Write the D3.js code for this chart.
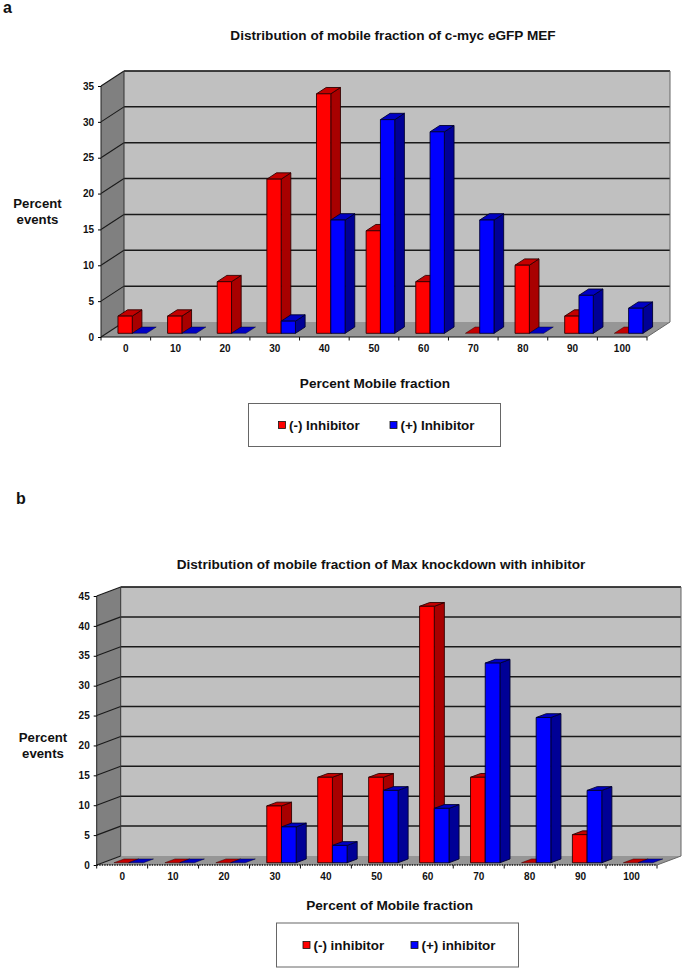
<!DOCTYPE html>
<html><head><meta charset="utf-8">
<script src="https://cdn.jsdelivr.net/npm/d3@7"></script>
<style>html,body{margin:0;padding:0;background:#fff}svg{display:block}text{font-family:"Liberation Sans",Arial,sans-serif;font-weight:bold;fill:#111}</style>
</head><body><svg id="c" width="685" height="971"></svg>
<script>
const categories = ["0","10","20","30","40","50","60","70","80","90","100"];
const seriesA1 = [2.4,2.4,7.2,21.5,33.4,14.3,7.2,0,9.5,2.4,0];
const seriesA2 = [0,0,0,1.7,15.8,29.8,28.1,15.8,0,5.3,3.5];
const seriesB1 = [0,0,0,9.5,14.3,14.3,42.9,14.3,0,4.7,0];
const seriesB2 = [0,0,0,6,2.9,12.1,9.1,33.4,24.3,12.1,0];
const ticksA = [0,5,10,15,20,25,30,35];
const ticksB = [0,5,10,15,20,25,30,35,40,45];

const svg = d3.select("#c");
const RED = {front:"#ff0000", side:"#a80000", top:"#c40000"};
const BLUE = {front:"#0000ff", side:"#000096", top:"#0000c4"};

function panel(o){
  const g = svg.append("g");
  const x = d3.scaleBand().domain(categories).range([o.x0,o.x1]).paddingInner(0).paddingOuter(0);
  const y = d3.scaleLinear().domain([0,o.max]).range([o.y0,o.yTop]);
  const dx=o.dx, dy=o.dy;
  const poly=(pts,fill,stroke,sw)=>g.append("polygon").attr("points",pts.map(p=>p.join(",")).join(" "))
     .attr("fill",fill).attr("stroke",stroke||"none").attr("stroke-width",sw||0).attr("stroke-linejoin","round");
  // walls
  poly([[o.x0+dx,o.yTop+dy],[o.x1+dx,o.yTop+dy],[o.x1+dx,o.y0+dy],[o.x0+dx,o.y0+dy]],"#c0c0c0");
  poly([[o.x0,o.yTop],[o.x0+dx,o.yTop+dy],[o.x0+dx,o.y0+dy],[o.x0,o.y0]],"#808080");
  poly([[o.x0,o.y0],[o.x0+dx,o.y0+dy],[o.x1+dx,o.y0+dy],[o.x1,o.y0]],"#969696");
  // gridlines
  o.ticks.forEach(t=>{
    const yy=y(t);
    if(t>0) g.append("line").attr("x1",o.x0+dx).attr("x2",o.x1+dx).attr("y1",yy+dy).attr("y2",yy+dy).attr("stroke","#1a1a1a").attr("stroke-width",1.5);
    g.append("line").attr("x1",o.x0).attr("x2",o.x0+dx).attr("y1",yy).attr("y2",yy+dy).attr("stroke","#1a1a1a").attr("stroke-width",1.1);
  });
  g.append("polyline").attr("points",[[o.x0+dx,o.y0+dy],[o.x0+dx,o.yTop+dy],[o.x1+dx,o.yTop+dy]].map(p=>p.join(",")).join(" ")).attr("fill","none").attr("stroke","#333").attr("stroke-width",1);
  g.append("polyline").attr("points",[[o.x1,o.y0],[o.x1+dx,o.y0+dy],[o.x1+dx,o.yTop+dy]].map(p=>p.join(",")).join(" ")).attr("fill","none").attr("stroke","#666").attr("stroke-width",1);
  // axes
  const ya=g.append("g").attr("transform",`translate(${o.x0},0)`).call(d3.axisLeft(y).tickValues(o.ticks).tickSize(3).tickPadding(4));
  ya.select(".domain").attr("stroke","#222").attr("d",`M0,${o.yTop}V${o.y0}`);
  ya.selectAll("text").style("font-size","10px").style("font-family",'"Liberation Sans",Arial,sans-serif').style("font-weight","bold").attr("fill","#111");
  const xa=g.append("g").attr("transform",`translate(0,${o.y0})`).call(d3.axisBottom(x).tickSize(0).tickPadding(8));
  xa.select(".domain").attr("stroke","#111").attr("stroke-dasharray",o.axisDash||null).attr("stroke-width",o.axisDash?1.6:1).attr("d",`M${o.x0},0H${o.x1}`);
  xa.selectAll("text").style("font-size","10px").style("font-family",'"Liberation Sans",Arial,sans-serif').style("font-weight","bold").attr("fill","#111");
  [...categories.map(c=>x(c)),o.x1].forEach(px=>g.append("line").attr("x1",px).attr("x2",px).attr("y1",o.y0).attr("y2",o.y0+3.5).attr("stroke","#111"));
  // bars
  const fx=dx*o.base+o.shift, fy=dy*o.base, bw=o.barW, bdx=dx*o.barDepth, bdy=dy*o.barDepth;
  categories.forEach((c,i)=>{
    [[o.s1,RED,0],[o.s2,BLUE,1]].forEach(([s,col,k])=>{
      const l=x(c)+fx+(x.bandwidth()-2*bw)/2+k*bw, r=l+bw, b=o.y0+fy, t=y(s[i])+fy;
      const sw=0.9, sc=k? "#000030":"#300000";
      if(s[i]>0){
        poly([[r,b],[r+bdx,b+bdy],[r+bdx,t+bdy],[r,t]],col.side,sc,sw);
        poly([[l,t],[l+bdx,t+bdy],[r+bdx,t+bdy],[r,t]],col.top,sc,sw);
        poly([[l,b],[r,b],[r,t],[l,t]],col.front,sc,sw);
      } else {
        poly([[l,b],[l+bdx,b+bdy],[r+bdx,b+bdy],[r,b]],col.top,sc,0.5);
      }
    });
  });
  const label=(t,xx,yy,size,anchor)=>svg.append("text").attr("x",xx).attr("y",yy).attr("text-anchor",anchor||"middle").style("font-size",size+"px").text(t);
  label(o.letter,o.letterX,o.letterY,16,"start");
  label(o.title,o.titleX,o.titleY,13.6);
  label("Percent",o.pctX,o.pctY,13.2);
  label("events",o.pctX,o.pctY+16,13.2);
  label(o.xTitle,o.xtX,o.xtY,13.6);
  // legend
  const L=o.leg;
  svg.append("rect").attr("x",L.x).attr("y",L.y).attr("width",L.w).attr("height",L.h).attr("fill","#fff").attr("stroke","#666").attr("stroke-width",1);
  [[o.name1,RED.front,L.k1],[o.name2,BLUE.front,L.k2]].forEach(([n,col,kx])=>{
    svg.append("rect").attr("x",kx).attr("y",L.y+L.h/2-3.5).attr("width",7).attr("height",7).attr("fill",col).attr("stroke","#111").attr("stroke-width",0.8);
    label(n,kx+10.5,L.y+L.h/2+5,13.4,"start");
  });
}

panel({x0:101,x1:647,y0:337,yTop:86,max:35,dx:23,dy:-15,base:0.245,shift:0.8,barW:14.3,barDepth:0.42,ticks:ticksA,s1:seriesA1,s2:seriesA2,
  letter:"a",letterX:3,letterY:12.5,title:"Distribution of mobile fraction of c-myc eGFP MEF",titleX:393,titleY:40,
  pctX:37.5,pctY:208,xTitle:"Percent Mobile fraction",xtX:375,xtY:387.5,
  name1:"(-) Inhibitor",name2:"(+) Inhibitor",leg:{x:248.5,y:403.5,w:252,h:43,k1:278.5,k2:390}});
panel({x0:96.7,x1:657,y0:865,yTop:596,max:45,dx:24,dy:-9,base:0.25,shift:0.5,barW:14.7,barDepth:0.42,axisDash:"1.5 1",ticks:ticksB,s1:seriesB1,s2:seriesB2,
  letter:"b",letterX:16,letterY:504,title:"Distribution of mobile fraction of Max knockdown with inhibitor",titleX:381,titleY:569,
  pctX:43,pctY:742,xTitle:"Percent of Mobile fraction",xtX:389.7,xtY:909.5,
  name1:"(-) inhibitor",name2:"(+) inhibitor",leg:{x:276.5,y:923,w:242,h:44,k1:303,k2:411}});
</script></body></html>
